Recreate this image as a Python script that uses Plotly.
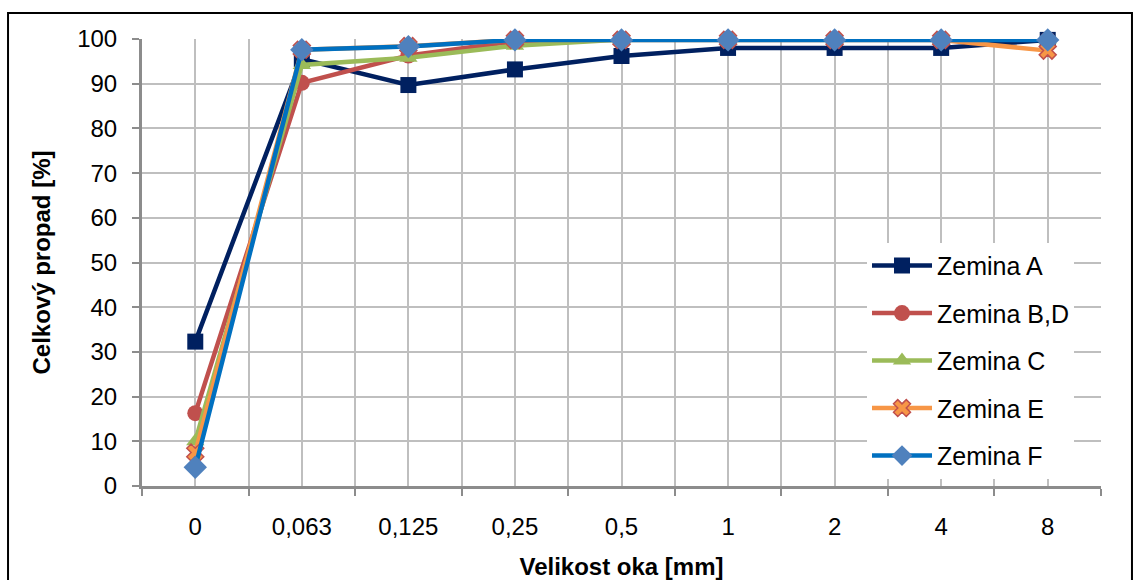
import plotly.graph_objects as go

categories = ["0", "0,063", "0,125", "0,25", "0,5", "1", "2", "4", "8"]
zemina_a = [32.3, 95.5, 89.7, 93.2, 96.2, 98.0, 98.0, 98.0, 99.8]
zemina_bd = [16.3, 90.2, 96.3, 99.5, 99.9, 99.9, 99.9, 99.9, 99.9]
zemina_c = [10.0, 94.2, 95.8, 98.5, 99.9, 99.9, 99.9, 99.9, 99.9]
zemina_e = [7.5, 97.6, 98.4, 99.8, 99.8, 99.8, 99.8, 99.8, 97.4]
zemina_f = [4.2, 97.6, 98.3, 99.8, 99.8, 99.8, 99.8, 99.8, 99.8]
y_ticks = [0, 10, 20, 30, 40, 50, 60, 70, 80, 90, 100]

series = [
    ("Zemina A", zemina_a, "#002060", dict(symbol="square", size=16, color="#002060")),
    ("Zemina B,D", zemina_bd, "#C0504D", dict(symbol="circle", size=16, color="#C0504D")),
    ("Zemina C", zemina_c, "#9BBB59", dict(symbol="triangle-up", size=16, color="#9BBB59")),
    ("Zemina E", zemina_e, "#F79646", dict(symbol="x", size=15, color="#F79646",
                                           line=dict(color="#C0504D", width=1.5))),
    ("Zemina F", zemina_f, "#0070C0", dict(symbol="diamond", size=18, color="#4F81BD")),
]

xs = list(range(len(categories)))
fig = go.Figure()
for i, (name, vals, col, mk) in enumerate(series):
    fig.add_trace(go.Scatter(
        x=xs, y=vals, name=name, mode="lines+markers",
        line=dict(color=col, width=4.5), marker=mk,
        legendgroup=f"g{i}", cliponaxis=False,
    ))

grid = "#BFBFBF"
axis_col = "#8C8C8C"
font_family = "Liberation Sans, Arial, sans-serif"

fig.update_layout(
    width=1138, height=580,
    margin=dict(l=142, r=37, t=39, b=94),
    paper_bgcolor="white", plot_bgcolor="white",
    font=dict(family=font_family, size=24, color="#000000"),
    showlegend=True,
    legend=dict(
        x=0.756, y=0.544, xanchor="left", yanchor="top",
        bgcolor="white", borderwidth=0,
        font=dict(size=25, family=font_family),
        traceorder="grouped", tracegroupgap=12,
        itemwidth=60,
    ),
    xaxis=dict(
        range=[-0.5, len(categories) - 0.5],
        tickmode="array", tickvals=xs, ticktext=categories,
        ticks="", showgrid=True, gridcolor=grid, gridwidth=2,
        showline=True, linecolor=axis_col, linewidth=3,
        zeroline=False, automargin=False,
        minor=dict(tickvals=[v - 0.5 for v in range(len(categories) + 1)],
                   ticks="outside", ticklen=7, tickcolor=axis_col, tickwidth=2,
                   showgrid=True, gridcolor=grid, gridwidth=2),
        tickfont=dict(size=24),
        ticklabelstandoff=17,
        title=dict(text="<b>Velikost oka [mm]</b>", font=dict(size=24), standoff=22),
    ),
    yaxis=dict(
        range=[0, 100], tickmode="array", tickvals=y_ticks,
        ticks="outside", ticklen=7, tickcolor=axis_col, tickwidth=2,
        showgrid=True, gridcolor=grid, gridwidth=2,
        showline=True, linecolor=axis_col, linewidth=3,
        zeroline=False, automargin=False,
        tickfont=dict(size=24),
        ticklabelstandoff=10,
        title=dict(text="<b>Celkový propad [%]</b>", font=dict(size=24), standoff=20),
    ),
    shapes=[dict(type="rect", xref="paper", yref="paper",
                 x0=-0.1397, x1=1.0323, y0=-0.4, y1=1.058,
                 line=dict(color="black", width=2), fillcolor="rgba(0,0,0,0)",
                 layer="below")],
)

fig.write_html("out.html")
